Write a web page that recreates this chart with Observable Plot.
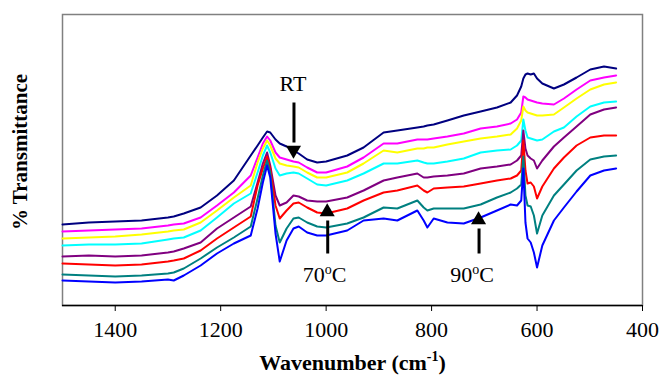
<!DOCTYPE html>
<html><head><meta charset="utf-8">
<script src="https://cdn.jsdelivr.net/npm/d3@7"></script>
<script src="https://cdn.jsdelivr.net/npm/@observablehq/plot@0.6"></script>
<style>body{margin:0;background:#fff}</style>
</head><body><div id="chart"></div>
<script>
// Shared wavenumber grid (cm-1)
const wavenumbers = [1500,1450,1400,1350,1300,1289,1270,1238,1207,1175,1143,1130,1120,1112,1106,1096,1088,1075,1062,1052,1036,1017,1000,960,929,891,865,827,815,808,796,770,739,707,676,650,638,630,626,622,618,612,606,600,590,568,549,525,499,473,450];

// Offset transmittance (arbitrary units) per spectrum, top to bottom
const seriesNames = ["RT","T2","T3","T4","T5","70°C","T7","90°C"];
const seriesColors = ["#000080","#FF00FF","#FFFF00","#00FFFF","#800080","#FF0000","#008080","#0000FF"];
const navy    = [81,83,84,85,88,89,92,98,110,125,150,160,168,174,173,166,162,159,155,152,146,143,144,150,158,173,175,178,179,180,181,185,190,194,198,203,210,219,227,231,232,231,232,227,222,217,221,228,236,239,237];
const magenta = [74,75,76,77,80,81,82,88,100,113,130,148,162,169,165,153,148,146,144,143,138,133,133,139,148,162,162,166,166,166,167,169,172,177,179,182,186,193,209,208,206,205,204,203,202,201,207,216,225,228,230];
const yellow  = [67,68,69,71,74,75,76,83,95,108,120,143,157,165,160,147,142,140,139,138,133,128,128,133,142,155,153,157,157,158,158,161,164,167,169,171,177,185,199,195,193,192,191,190,190,191,198,207,216,221,223];
const cyan    = [60,61,61,62,66,67,68,75,88,102,112,133,150,160,153,137,130,132,133,132,127,121,120,125,132,142,142,145,143,142,142,144,147,153,155,156,160,165,186,175,168,167,166,165,166,174,178,189,199,203,204];
const purple  = [49,50,49,50,53,54,57,63,77,88,99,123,142,153,140,110,100,103,110,109,105,104,104,108,115,125,128,132,128,128,129,130,132,137,139,141,145,150,175,157,150,147,145,137,145,159,168,179,191,196,198];
const red     = [42,41,40,41,44,45,47,55,67,78,89,120,137,149,137,100,87,95,102,103,98,93,92,97,105,113,115,120,115,113,117,118,119,122,125,127,130,135,165,135,122,123,119,107,119,137,148,160,168,170,170];
const teal    = [31,30,29,30,32,33,37,47,58,68,79,107,130,145,133,80,63,77,87,88,83,79,78,82,88,98,97,105,98,95,97,97,97,101,108,113,117,121,149,110,100,99,90,72,90,110,121,135,146,149,150];
const blue    = [25,24,23,24,26,25,30,40,52,62,70,97,123,140,128,72,44,65,77,79,73,70,70,75,85,87,85,95,85,78,87,83,82,88,95,101,100,105,137,83,67,63,53,38,60,85,98,114,130,135,137];
const seriesValues = [navy, magenta, yellow, cyan, purple, red, teal, blue];

const xTicks = [1400,1200,1000,800,600,400];

// Annotations
const arrowWn    = [1061, 997, 710];
const arrowTail  = [203, 52, 52];
const arrowTip   = [155, 93, 85];
const arrowDir   = ["down","up","up"];
const labelText  = ["RT","70oC","90oC"];
const labelWn    = [1063, 1003, 723];
const labelVal   = [222, 31, 31];

const rows = [];
seriesValues.forEach((vals, s) => {
  wavenumbers.forEach((w, i) => rows.push({wn: w, t: vals[i], name: seriesNames[s]}));
});
const arrows = arrowWn.map((w, i) => ({
  wn: w, tail: arrowTail[i], tip: arrowTip[i],
  shaftEnd: arrowTip[i] + (arrowDir[i] === "down" ? 8 : -8),
  rot: arrowDir[i] === "down" ? 180 : 0,
  dy: arrowDir[i] === "down" ? -8 : 8
}));
const labels = labelText.map((t, i) => ({text: t, wn: labelWn[i], v: labelVal[i]}));

const serif = "Liberation Serif";
const plot = Plot.plot({
  width: 660, height: 376,
  marginLeft: 62, marginRight: 18, marginTop: 14, marginBottom: 71,
  style: "font-family: 'Liberation Serif', 'Times New Roman', serif; background: #fff; color: #000;",
  x: {domain: [1500, 400]},
  y: {domain: [0, 291], axis: null},
  color: {domain: seriesNames, range: seriesColors},
  marks: [
    Plot.frame({stroke: "#808080", strokeWidth: 1.5}),
    Plot.ruleY([0], {stroke: "#000", strokeWidth: 1.5}),
    Plot.axisX(xTicks, {tickSize: 6, tickPadding: 10, fontSize: 22, fontFamily: serif, tickFormat: "d", stroke: "#000", label: null}),
    Plot.line(rows, {x: "wn", y: "t", z: "name", stroke: "name", strokeWidth: 2}),
    Plot.link(arrows, {x1: "wn", x2: "wn", y1: "tail", y2: "shaftEnd", stroke: "#000", strokeWidth: 3}),
    Plot.dot(arrows, {x: "wn", y: "tip", symbol: "triangle", r: 5.6, fill: "#000", rotate: "rot", dy: "dy"}),
    Plot.text(labels, {x: "wn", y: "v", text: "text", fontSize: 22, fontFamily: serif, fill: "#000"}),
    Plot.text(["Wavenumber (cm-1)"], {frameAnchor: "bottom", lineAnchor: "middle", dy: 57, fontSize: 22, fontFamily: serif, fontWeight: "bold", fill: "#000"}),
    Plot.text(["% Transmittance"], {frameAnchor: "left", textAnchor: "middle", lineAnchor: "middle", rotate: -90, dx: -42, dy: -8, fontSize: 21, fontFamily: serif, fontWeight: "bold", fill: "#000"})
  ]
});

// Superscripts
d3.select(plot).selectAll("text").each(function() {
  const el = d3.select(this);
  const s = el.text();
  let m;
  if ((m = s.match(/^(\d+)oC$/))) {
    el.text(null);
    el.append("tspan").text(m[1]);
    el.append("tspan").attr("dy", -8).attr("font-size", 14).text("o");
    el.append("tspan").attr("dy", 8).text("C");
  } else if (s === "Wavenumber (cm-1)") {
    el.text(null);
    el.append("tspan").text("Wavenumber (cm");
    el.append("tspan").attr("dy", -9).attr("font-size", 14).text("-1");
    el.append("tspan").attr("dy", 9).text(")");
  }
});
document.getElementById("chart").appendChild(plot);
</script>
</body></html>
